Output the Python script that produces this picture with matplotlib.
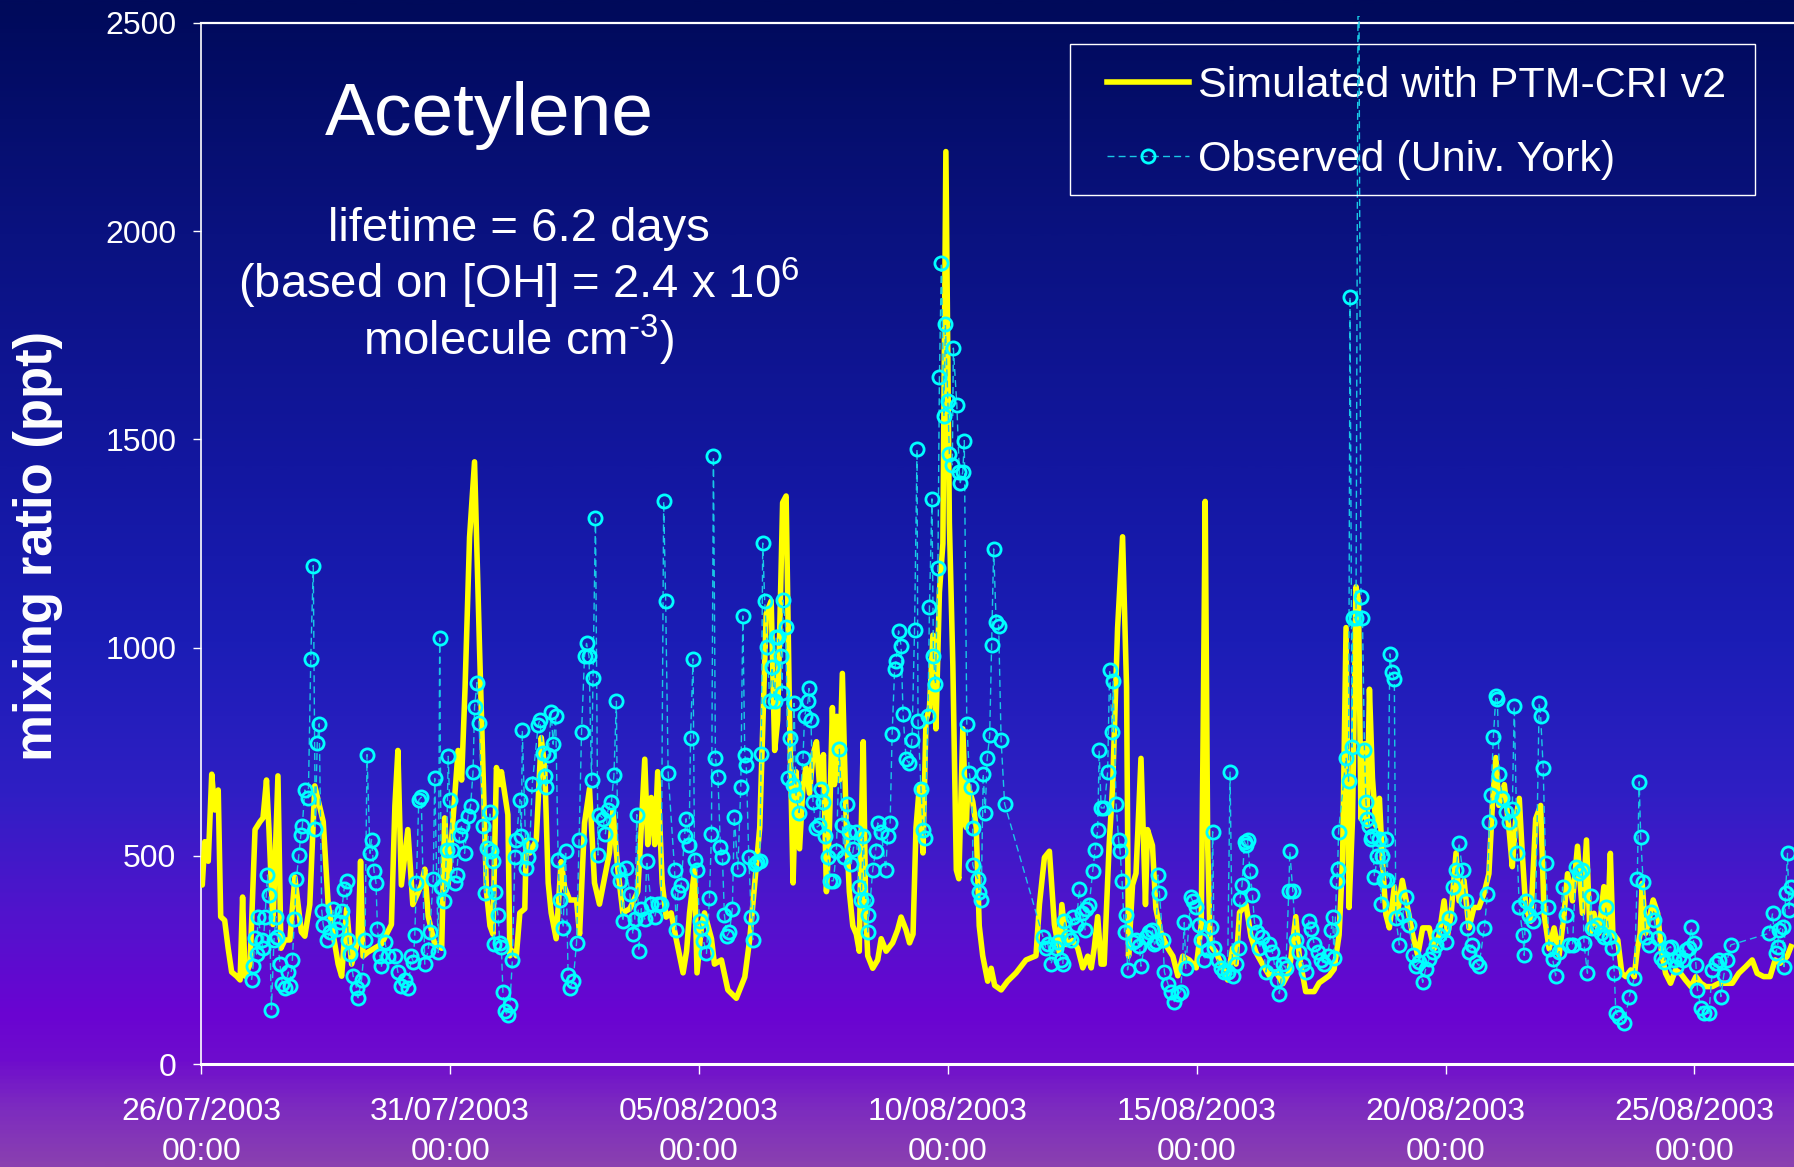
import numpy as np
import pandas as pd
import matplotlib
matplotlib.use('Agg')
import matplotlib.pyplot as plt
import matplotlib.dates as mdates
from matplotlib.colors import LinearSegmentedColormap
from matplotlib.patches import Rectangle

plt.rcParams['font.family'] = ['Liberation Sans', 'DejaVu Sans']
plt.rcParams['mathtext.fontset'] = 'custom'
plt.rcParams['mathtext.rm'] = 'Liberation Sans'
plt.rcParams['mathtext.default'] = 'regular'

# --- data ---
start = pd.Timestamp('2003-07-26 00:00')

# simulated with PTM-CRI v2: days after 26/07/2003 00:00, ppt
sim_day = [0.00, 0.02, 0.07, 0.14, 0.21, 0.27, 0.34, 0.39, 0.47, 0.54, 0.61, 0.71, 0.78, 0.83, 0.88, 0.98,
           1.08, 1.18, 1.24, 1.31, 1.36, 1.44, 1.54, 1.60, 1.68, 1.78, 1.88, 2.01, 2.08, 2.18, 2.28, 2.45,
           2.55, 2.75, 2.82, 2.92, 3.02, 3.15, 3.20, 3.25, 3.35, 3.62, 3.82, 3.89, 3.95, 4.02, 4.15, 4.25,
           4.42, 4.49, 4.56, 4.69, 4.83, 4.89, 4.96, 5.16, 5.23, 5.30, 5.39, 5.49, 5.59, 5.73,
           5.80, 5.86, 5.93, 6.00, 6.03, 6.16, 6.20, 6.26, 6.33, 6.40, 6.50, 6.53, 6.60, 6.73, 6.83, 6.90,
           6.97, 7.03, 7.13, 7.23, 7.30, 7.40, 7.54, 7.60, 7.70, 7.80, 7.90, 8.00, 8.10, 8.20, 8.27, 8.37,
           8.47, 8.61, 8.77, 8.84, 8.91, 8.97, 9.04, 9.11, 9.17, 9.26, 9.34, 9.44, 9.54, 9.61, 9.68, 9.75,
           9.81, 9.91, 9.96, 10.05, 10.11, 10.25, 10.31, 10.45, 10.58, 10.75, 10.92, 11.02, 11.12, 11.22,
           11.35, 11.45, 11.52, 11.58, 11.68, 11.75, 11.82, 11.89, 11.95, 12.02, 12.09, 12.15, 12.22, 12.29,
           12.36, 12.42, 12.50, 12.56, 12.62, 12.68, 12.72, 12.77, 12.82, 12.88, 12.96, 13.02, 13.09, 13.16,
           13.22, 13.26, 13.30, 13.35, 13.39, 13.49, 13.59, 13.66, 13.76, 13.89, 13.99, 14.06, 14.16, 14.23,
           14.30, 14.36, 14.43, 14.50, 14.56, 14.63, 14.70, 14.76, 14.83, 14.90, 14.96, 15.03, 15.10, 15.17,
           15.22, 15.30, 15.37, 15.40, 15.50, 15.57, 15.63, 15.70, 15.80, 15.87, 15.94, 16.07, 16.20, 16.37,
           16.57, 16.77, 16.84, 16.94, 17.04, 17.14, 17.24, 17.29, 17.38, 17.51, 17.61, 17.71, 17.81, 17.88,
           17.94, 18.01, 18.08, 18.14, 18.24, 18.31, 18.41, 18.51, 18.59, 18.63, 18.71, 18.78, 18.88, 18.97,
           19.01, 19.11, 19.18, 19.28, 19.42, 19.52, 19.62, 19.72, 19.85, 19.99, 20.09, 20.13, 20.17, 20.22,
           20.27, 20.39, 20.52, 20.62, 20.72, 20.79, 20.86, 20.92, 20.99, 21.09, 21.19, 21.32, 21.46, 21.59,
           21.73, 21.86, 21.99, 22.06, 22.19, 22.36, 22.46, 22.66, 22.76, 22.86, 22.93, 23.00, 23.06, 23.13,
           23.20, 23.25, 23.30, 23.37, 23.42, 23.47, 23.53, 23.60, 23.67, 23.73, 23.80, 23.87, 23.97, 24.03,
           24.13, 24.34, 24.44, 24.54, 24.67, 24.77, 24.87, 24.97, 25.04, 25.11, 25.21, 25.27, 25.37, 25.47,
           25.57, 25.67, 25.77, 25.87, 25.94, 26.01, 26.07, 26.18, 26.28, 26.34, 26.41, 26.48, 26.54, 26.61,
           26.71, 26.81, 26.91, 26.98, 27.08, 27.18, 27.28, 27.38, 27.45, 27.55, 27.65, 27.75, 27.83, 27.90,
           27.98, 28.08, 28.18, 28.25, 28.31, 28.36, 28.46, 28.54, 28.62, 28.72, 28.79, 28.85, 28.91, 28.95,
           29.02, 29.10, 29.17, 29.26, 29.34, 29.42, 29.52, 29.62, 29.72, 29.82, 29.93, 30.03, 30.13, 30.23,
           30.36, 30.49, 30.63, 30.76, 30.89, 31.03, 31.16, 31.26, 31.39, 31.52, 31.62, 31.72, 31.86, 31.94]
sim_ppt = [470, 430, 534, 487, 696, 610, 658, 354, 345, 278, 221, 211, 202, 401, 211, 240,
           563, 582, 591, 682, 563, 335, 692, 278, 298, 298, 449, 317, 307, 383, 668, 582,
           383, 240, 211, 373, 240, 298, 487, 259, 269, 288, 335, 620, 753, 430, 563, 383,
           430, 468, 354, 288, 278, 591, 430, 753, 682, 905, 1265, 1446, 1000, 414,
           332, 312, 712, 671, 702, 599, 260, 271, 260, 363, 373, 537, 507, 537, 784, 712,
           435, 363, 301, 486, 425, 394, 394, 312, 579, 661, 435, 384, 445, 507, 609, 466,
           363, 373, 414, 568, 732, 527, 640, 527, 702, 435, 353, 363, 301, 260, 219, 271,
           363, 466, 219, 332, 363, 301, 240, 250, 178, 158, 209, 301, 435, 568,
           1081, 1112, 753, 825, 1348, 1364, 825, 435, 702, 517, 671, 712, 650, 743,
           774, 671, 743, 414, 568, 856, 671, 835, 681, 938, 568, 414, 332, 312,
           271, 568, 774, 363, 260, 230, 250, 301, 271, 291, 322, 353, 322, 291,
           312, 568, 671, 507, 825, 856, 1030, 805, 1133, 1250, 2191, 1300, 958, 466,
           445, 805, 568, 671, 630, 568, 332, 260, 199, 230, 189, 178, 199, 219,
           250, 260, 384, 496, 511, 335, 268, 383, 287, 297, 278, 231, 259, 231,
           278, 354, 240, 240, 525, 667, 1047, 1266, 905, 259, 430, 458, 734, 383,
           563, 525, 373, 316, 278, 259, 212, 259, 250, 231, 335, 810, 1351, 525,
           287, 268, 231, 202, 278, 240, 364, 373, 383, 306, 268, 240, 212, 222,
           193, 222, 354, 259, 174, 174, 195, 212, 228, 310, 490, 1048, 376, 589,
           1146, 1113, 589, 769, 572, 900, 687, 572, 638, 490, 359, 327, 425, 359,
           441, 310, 261, 327, 327, 277, 310, 392, 310, 359, 507, 392, 441, 327,
           376, 376, 409, 457, 621, 736, 621, 671, 556, 474, 589, 638, 507, 376,
           343, 589, 621, 359, 277, 327, 261, 359, 457, 392, 523, 362, 538, 314,
           362, 314, 426, 314, 506, 314, 298, 218, 210, 226, 210, 274, 314, 434,
           314, 354, 394, 362, 266, 218, 194, 226, 218, 202, 186, 210, 194, 186,
           186, 194, 194, 194, 218, 234, 250, 218, 210, 210, 250, 242, 258, 282]

# observed (Univ. York): days after 26/07/2003 00:00, ppt
obs_day = [1.01, 1.04, 1.08, 1.11, 1.14, 1.21, 1.24, 1.28, 1.33, 1.36, 1.41, 1.46, 1.50, 1.53, 1.58, 1.63,
           1.68, 1.75, 1.78, 1.83, 1.87, 1.91, 1.96, 2.00, 2.03, 2.08, 2.15, 2.20, 2.25, 2.29, 2.33, 2.37,
           2.42, 2.45, 2.52, 2.58, 2.65, 2.72, 2.78, 2.82, 2.87, 2.92, 2.95, 2.98, 3.05, 3.12, 3.15, 3.22,
           3.29, 3.33, 3.39, 3.42, 3.47, 3.51, 3.54, 3.59, 3.62, 3.69, 3.75, 3.89, 3.95, 4.02, 4.09, 4.16,
           4.22, 4.26, 4.29, 4.32, 4.37, 4.42, 4.49, 4.56, 4.59, 4.66, 4.69, 4.76, 4.79, 4.82, 4.88, 4.93,
           4.96, 4.99, 5.04, 5.09, 5.13, 5.19, 5.23, 5.29, 5.36, 5.41, 5.46, 5.49, 5.54, 5.58, 5.66, 5.70,
           5.75, 5.80, 5.83, 5.86, 5.88, 5.90, 5.96, 6.00, 6.03, 6.06, 6.10, 6.16, 6.20, 6.25, 6.30, 6.33,
           6.40, 6.43, 6.45, 6.53, 6.56, 6.60, 6.65, 6.77, 6.80, 6.87, 6.90, 6.93, 6.97, 7.03, 7.07, 7.12,
           7.17, 7.20, 7.27, 7.32, 7.37, 7.40, 7.47, 7.54, 7.59, 7.64, 7.70, 7.74, 7.79, 7.84, 7.87, 7.92,
           7.97, 8.00, 8.07, 8.12, 8.17, 8.24, 8.29, 8.34, 8.37, 8.41, 8.47, 8.54, 8.61, 8.67, 8.71, 8.75,
           8.79, 8.84, 8.91, 8.95, 9.04, 9.11, 9.17, 9.24, 9.29, 9.33, 9.38, 9.51, 9.54, 9.58, 9.64, 9.71,
           9.74, 9.80, 9.83, 9.88, 9.91, 9.96, 10.01, 10.05, 10.09, 10.15, 10.21, 10.25, 10.29, 10.33, 10.38,
           10.43, 10.47, 10.51, 10.56, 10.61, 10.67, 10.71, 10.78, 10.84, 10.88, 10.92, 10.95, 11.00, 11.05,
           11.08, 11.12, 11.16, 11.22, 11.25, 11.28, 11.32, 11.37, 11.42, 11.47, 11.52, 11.55, 11.59, 11.65,
           11.67, 11.69, 11.74, 11.79, 11.83, 11.89, 11.91, 11.95, 12.01, 12.09, 12.12, 12.19, 12.21, 12.25,
           12.29, 12.35, 12.42, 12.46, 12.49, 12.54, 12.59, 12.64, 12.70, 12.76, 12.82, 12.88, 12.92, 12.97,
           13.02, 13.06, 13.10, 13.16, 13.21, 13.26, 13.30, 13.35, 13.39, 13.39, 13.49, 13.55, 13.59, 13.66,
           13.75, 13.79, 13.84, 13.88, 13.93, 13.96, 14.01, 14.06, 14.10, 14.16, 14.22, 14.28, 14.33, 14.38,
           14.40, 14.46, 14.50, 14.54, 14.60, 14.63, 14.68, 14.71, 14.75, 14.80, 14.83, 14.87, 14.92, 14.95,
           15.00, 15.03, 15.09, 15.11, 15.18, 15.23, 15.25, 15.30, 15.33, 15.38, 15.43, 15.47, 15.50, 15.50,
           15.60, 15.63, 15.67, 15.71, 15.75, 15.79, 15.84, 15.88, 15.92, 15.97, 16.02, 16.07, 16.14,
           16.91, 16.97, 17.01, 17.07, 17.17, 17.21, 17.27, 17.31, 17.34, 17.41, 17.47, 17.51, 17.58, 17.64,
           17.70, 17.76, 17.78, 17.84, 17.91, 17.96, 18.01, 18.04, 18.08, 18.14, 18.21, 18.25, 18.30, 18.32,
           18.38, 18.43, 18.46, 18.50, 18.55, 18.58, 18.61, 18.71, 18.78, 18.85, 18.88, 18.98, 19.05, 19.11,
           19.15, 19.18, 19.22, 19.25, 19.32, 19.35, 19.42, 19.48, 19.55, 19.62, 19.68, 19.75, 19.78, 19.88,
           19.92, 19.98, 20.04, 20.09, 20.15, 20.22, 20.29, 20.32, 20.35, 20.42, 20.49, 20.55, 20.62, 20.67,
           20.72, 20.79, 20.84, 20.87, 20.91, 20.96, 20.99, 21.02, 21.07, 21.12, 21.16, 21.22, 21.26, 21.32,
           21.39, 21.46, 21.52, 21.56, 21.62, 21.66, 21.73, 21.79, 21.85, 21.87, 21.93, 21.99, 22.06, 22.13,
           22.19, 22.25, 22.29, 22.36, 22.43, 22.50, 22.56, 22.63, 22.70, 22.73, 22.76, 22.81, 22.83, 22.85,
           23.00, 23.05, 23.08, 23.12, 23.13, 23.20, 23.25, 23.30, 23.33, 23.37, 23.40, 23.43, 23.47, 23.50,
           23.53, 23.57, 23.63, 23.67, 23.70, 23.73, 23.77, 23.80, 23.83, 23.88, 23.92, 23.97, 24.00, 24.07,
           24.14, 24.20, 24.27, 24.34, 24.40, 24.47, 24.54, 24.60, 24.67, 24.74, 24.81, 24.87, 24.94, 25.01,
           25.07, 25.14, 25.21, 25.27, 25.34, 25.41, 25.44, 25.47, 25.54, 25.61, 25.67, 25.78, 25.84, 25.88,
           25.91, 25.96, 26.01, 26.04, 26.08, 26.14, 26.21, 26.28, 26.34, 26.38, 26.44, 26.48, 26.55, 26.58,
           26.61, 26.68, 26.75, 26.81, 26.88, 26.91, 26.96, 27.01, 27.05, 27.08, 27.15, 27.21, 27.28, 27.35,
           27.42, 27.48, 27.55, 27.62, 27.68, 27.75, 27.78, 27.85, 27.92, 27.95, 28.05, 28.12, 28.19, 28.22,
           28.29, 28.35, 28.39, 28.42, 28.49, 28.59, 28.69, 28.79, 28.85, 28.89, 28.92, 28.97, 29.02, 29.09,
           29.12, 29.19, 29.26, 29.32, 29.39, 29.46, 29.52, 29.59, 29.62, 29.69, 29.76, 29.83, 29.89, 29.93,
           29.99, 30.03, 30.06, 30.13, 30.19, 30.29, 30.36, 30.43, 30.49, 30.53, 30.59, 30.66, 30.73,
           31.50, 31.57, 31.63, 31.67, 31.70, 31.77, 31.80, 31.83, 31.87, 31.90, 31.93]
obs_ppt = [202, 235, 302, 264, 354, 297, 278, 354, 454, 406, 131, 297, 354, 306, 240, 193,
           183, 221, 188, 250, 349, 444, 501, 549, 572, 658, 639, 973, 1197, 565, 772, 817,
           368, 335, 297, 316, 373, 325, 340, 368, 420, 439, 297, 264, 212, 183, 159, 202,
           297, 743, 506, 539, 463, 435, 325, 259, 235, 292, 259, 259, 221, 188, 202, 183,
           259, 245, 311, 435, 634, 641, 240, 273, 316, 444, 686, 268, 1023, 425, 392, 515,
           739, 634, 515, 435, 454, 549, 572, 506, 596, 620, 701, 857, 916, 819, 572, 411,
           520, 606, 511, 487, 288, 414, 358, 291, 281, 173, 127, 117, 142, 250, 497, 537,
           635, 548, 801, 471, 497, 527, 673, 815, 825, 748, 691, 666, 743, 845, 768, 835,
           491, 394, 327, 512, 214, 183, 199, 291, 537, 797, 979, 1010, 979, 681, 927, 1311,
           502, 599, 589, 553, 609, 630, 693, 871, 466, 440, 343, 471, 409, 312, 348, 599,
           271, 373, 348, 488, 384, 353, 384, 384, 1351, 1113, 699, 466, 322, 414, 430, 548,
           589, 527, 784, 973, 491, 466, 343, 327, 296, 266, 399, 553, 1459, 735, 689,
           522, 497, 358, 307, 317, 373, 594, 468, 666, 1076, 743, 717, 497, 353,
           299, 481, 486, 488, 745, 1251, 1112, 1001, 871, 953, 871, 1025, 1025, 979,
           892, 1114, 1049, 686, 782, 671, 866, 645, 604, 736, 835, 871, 902, 825,
           630, 568, 573, 661, 630, 548, 496, 440, 440, 512, 756, 573, 496, 625,
           558, 481, 517, 558, 425, 394, 548, 394, 358, 317, 466, 512, 579, 558,
           466, 548, 579, 792, 948, 969, 1040, 1004, 840, 732, 722, 779, 1042, 1476,
           823, 661, 563, 543, 835, 1097, 1357, 979, 912, 1192, 1649, 1924, 1555, 1776,
           1591, 1465, 1439, 1719, 1583, 1422, 1396, 1422, 1497, 817, 700, 666, 566, 478,
           445, 414, 394, 697, 604, 734, 789, 1007, 1237, 1061, 1053, 777, 625,
           306, 278, 288, 240, 278, 292, 250, 240, 344, 306, 297, 354, 335, 420,
           363, 321, 373, 382, 463, 515, 563, 753, 615, 615, 701, 947, 798, 919,
           625, 539, 511, 439, 316, 359, 226, 292, 297, 283, 235, 306, 316, 321,
           288, 292, 454, 411, 297, 221, 193, 174, 150, 169, 174, 340, 230, 401,
           392, 378, 335, 297, 250, 273, 330, 558, 278, 250, 230, 221, 221, 701,
           212, 240, 278, 397, 430, 534, 525, 539, 463, 406, 340, 316, 278, 306,
           221, 288, 268, 240, 202, 169, 240, 230, 416, 511, 416, 297, 268, 240,
           221, 344, 325, 288, 268, 250, 240, 259, 321, 354, 254, 439, 468, 558,
           736, 679, 1842, 761, 1072, 1072, 2900, 1121, 1072, 753, 630, 589, 572, 540,
           548, 450, 499, 540, 384, 499, 441, 540, 441, 985, 941, 925, 351, 286,
           359, 400, 335, 261, 236, 245, 196, 228, 253, 269, 286, 310, 327, 294,
           351, 425, 466, 531, 466, 392, 327, 269, 286, 245, 236, 327, 409, 581,
           646, 785, 884, 876, 696, 638, 605, 581, 613, 859, 507, 376, 310, 261,
           392, 359, 343, 376, 867, 835, 712, 482, 376, 277, 253, 212, 269, 425,
           359, 286, 286, 474, 458, 466, 290, 218, 403, 326, 334, 314, 306, 378,
           306, 278, 218, 122, 114, 98, 162, 206, 444, 678, 546, 436, 306, 286,
           366, 346, 302, 254, 246, 278, 282, 250, 234, 258, 250, 274, 278, 328,
           290, 238, 178, 134, 122, 122, 226, 242, 250, 162, 214, 250, 286,
           314, 362, 266, 282, 322, 330, 234, 410, 506, 370, 426]

tick_dates = pd.date_range('2003-07-26', '2003-08-25', freq='5D')
y_ticks = [0, 500, 1000, 1500, 2000, 2500]

sim_t = start + pd.to_timedelta(sim_day, unit='D')
obs_t = start + pd.to_timedelta(obs_day, unit='D')

fig = plt.figure(figsize=(17.94, 11.67), dpi=100)

# --- slide-style gradient background ---
bg = fig.add_axes([0, 0, 1, 1], zorder=-10)
stops = [(0.00, '#000a5a'), (0.20, '#0a1280'), (0.40, '#1317a0'), (0.55, '#1b1db6'),
         (0.68, '#2f1fc4'), (0.78, '#5014cc'), (0.87, '#6a04d2'), (0.91, '#6e0ccd'),
         (0.95, '#7c2ac0'), (1.00, '#8a40b0')]
cmap = LinearSegmentedColormap.from_list('slide', stops)
bg.imshow(np.linspace(0, 1, 600).reshape(-1, 1), aspect='auto', cmap=cmap,
          extent=[0, 1, 0, 1], vmin=0, vmax=1)
bg.axis('off')

# --- main chart ---
ax = fig.add_axes([0.1122, 0.0882, 0.8878, 0.8922])
ax.set_facecolor('none')

ax.plot(sim_t, sim_ppt, color='#ffff00', lw=4.0, solid_joinstyle='round',
        label='Simulated with PTM-CRI v2', zorder=3)
obs_line, = ax.plot(obs_t, obs_ppt, color='#19c8e6', lw=1.0, ls=(0, (5, 3)), marker='o',
                    ms=9.5, mfc='none', mec='#00ffff', mew=2.0,
                    label='Observed (Univ. York)', zorder=6)
# the off-scale observation runs past the plot area up to the slide edge
obs_line.set_clip_path(Rectangle((0.0, 0.0), 1.0, 1 - 16 / 1167, transform=fig.transFigure))

ax.set_xlim(start, start + pd.Timedelta(days=32))
ax.set_ylim(0, 2500)

for s in ['left', 'bottom', 'top']:
    ax.spines[s].set_color('white')
ax.spines['right'].set_visible(False)
ax.spines['left'].set_linewidth(1.2)
ax.spines['top'].set_linewidth(1.6)
ax.spines['bottom'].set_linewidth(2.2)

ax.set_xticks(tick_dates)
ax.xaxis.set_major_formatter(mdates.DateFormatter('%d/%m/%Y\n%H:%M'))
ax.set_yticks(y_ticks)
ax.tick_params(axis='x', colors='white', labelsize=23, length=7, width=1, pad=17)
ax.tick_params(axis='y', colors='white', labelsize=23, length=6, width=1, pad=12)
for lab in ax.get_xticklabels():
    lab.set_linespacing(1.42)

# legend box drawn separately so the padding matches the slide
leg = ax.legend(loc='upper left', bbox_to_anchor=(0.6173, 0.9434),
                bbox_transform=fig.transFigure, fontsize=31, frameon=False,
                handlelength=1.9, handletextpad=0.2, borderpad=0, labelspacing=0.79,
                borderaxespad=0)
leg.set_zorder(5)
for t in leg.get_texts():
    t.set_color('white')
fig.patches.append(Rectangle((0.5963, 0.8333), 0.382, 0.1294, transform=fig.transFigure,
                             fill=False, edgecolor='white', lw=1.0, zorder=4))

# --- annotations ---
fig.text(0.2726, 0.8843, 'Acetylene', color='white', fontsize=54, ha='center', va='baseline')
fig.text(0.289, 0.7931, 'lifetime = 6.2 days', color='white', fontsize=34,
         ha='center', va='baseline')
fig.text(0.289, 0.7441, '(based on [OH] = 2.4 x 10$^{6}$', color='white', fontsize=34,
         ha='center', va='baseline')
fig.text(0.289, 0.6951, r'molecule cm$^{\text{-}3}$)', color='white', fontsize=34,
         ha='center', va='baseline')
fig.text(0.021, 0.532, 'mixing ratio (ppt)', rotation=90, color='white', fontsize=38,
         fontweight='bold', ha='center', va='center')

fig.savefig('out.png', dpi=100)
